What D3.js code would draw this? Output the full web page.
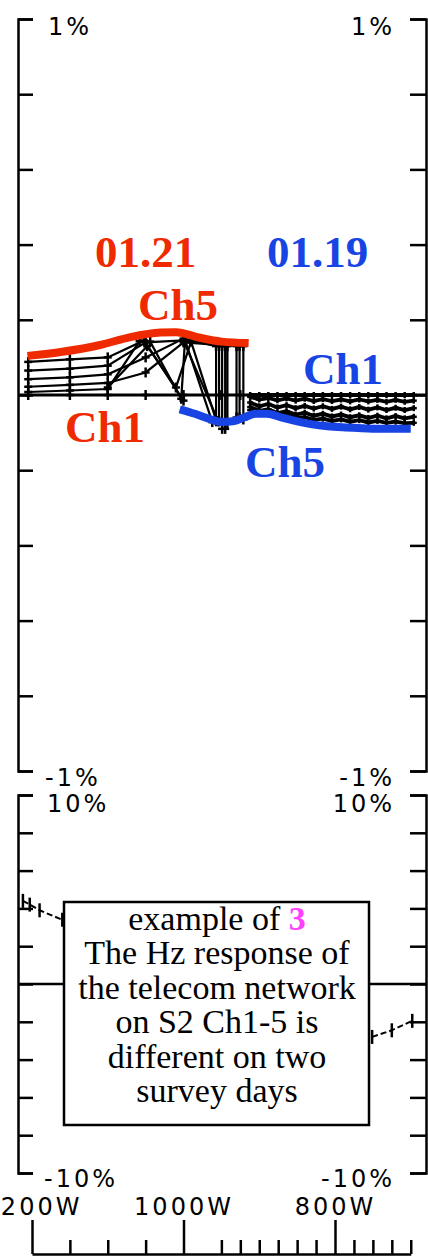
<!DOCTYPE html>
<html><head><meta charset="utf-8">
<script src="https://cdn.jsdelivr.net/npm/d3@7"></script>
<style>html,body{margin:0;padding:0;background:#fff;} svg{display:block;}</style>
</head><body>
<svg id="c" width="428" height="1256"></svg>
<script>
// ---------- data ----------
const xTickMajor = [1200, 1000, 800];
const xTickLabels = ["1200W", "1000W", "800W"];
const xTickMinor = [1150, 1100, 1050, 950, 925, 900, 875, 850, 825, 775, 750, 725, 700];
const topTickValues = [-1, -0.8, -0.6, -0.4, -0.2, 0, 0.2, 0.4, 0.6, 0.8, 1];
const topTickLabels = ["1%", "-1%"];
const botTickValues = [-10, -8, -6, -4, -2, 0, 2, 4, 6, 8, 10];
const botTickLabels = ["10%", "-10%"];
const dateLabels = ["01.21", "01.19"];
const chLabels = ["Ch5", "Ch1"];
const noteLines = ["example of ", "The Hz response of", "the telecom network", "on S2 Ch1-5 is", "different on two", "survey days"];
const noteNumber = "3";

// 01.21 survey (red): [W, %]
const d0121_ch5 = [[1206,0.104],[1160,0.115],[1110,0.133],[1070,0.154],[1030,0.166],[1010,0.167],[980,0.153],[950,0.142],[914,0.138]];
const d0121_ch1 = [[1205,0],[1150,0],[1100,0],[1050,0],[1000,0],[950,0],[925,0]];
const d0121_ch4 = [[1205,0.088],[1150,0.095],[1100,0.1],[1052,0.145],[1000,-0.015]];
const d0121_ch3 = [[1205,0.065],[1150,0.07],[1100,0.078],[1050,0.14],[1000,0.145],[954,-0.07]];
const d0121_ch2 = [[1205,0.042],[1150,0.047],[1100,0.055],[1050,0.1],[1000,0.15],[957,0.13],[957,-0.07],[953,-0.07],[953,0.13],[949,0.13],[949,-0.09],[945,-0.09],[945,0.13],[942,0.13],[942,-0.075]];
const d0121_chx = [[1205,0.022],[1150,0.027],[1100,0.032],[1050,0.06],[1000,0.14],[930,0.13],[930,-0.06],[926,-0.06],[926,0.13],[921,0.13],[921,-0.065]];
const d0121_chy = [[1205,0.008],[1150,0.012],[1100,0.016],[1058,0.143],[1044,0.142],[1003,-0.01],[998,0.146],[962,-0.072]];
const d0121_chz = [[1100,0.02],[1048,0.13],[1010,0.02],[990,0.142],[958,-0.06]];

// 01.19 survey (blue): [W, %]
const d0119_ch5 = [[1005,-0.038],[985,-0.05],[965,-0.064],[950,-0.072],[935,-0.07],[920,-0.06],[905,-0.05],[890,-0.05],[870,-0.06],[850,-0.07],[830,-0.078],[810,-0.083],[790,-0.086],[770,-0.088],[740,-0.09],[700,-0.09]];
const w0119 = [912, 900, 888, 876, 864, 852, 840, 828, 816, 804, 792, 780, 768, 756, 744, 732, 720, 708, 696];
const d0119_ch1 = [0,0,0,0,0,0,0,0,0,0,0,0,0,0,0,0,0,0,0];
const d0119_ch2 = [-0.005,-0.012,-0.008,-0.014,-0.009,-0.015,-0.01,-0.016,-0.011,-0.016,-0.012,-0.017,-0.012,-0.017,-0.013,-0.018,-0.013,-0.018,-0.015];
const d0119_ch3 = [-0.02,-0.03,-0.024,-0.033,-0.027,-0.035,-0.029,-0.036,-0.03,-0.037,-0.031,-0.038,-0.032,-0.039,-0.033,-0.04,-0.034,-0.04,-0.035];
const d0119_ch4 = [-0.032,-0.042,-0.038,-0.048,-0.043,-0.052,-0.047,-0.055,-0.05,-0.057,-0.052,-0.059,-0.054,-0.061,-0.055,-0.062,-0.056,-0.062,-0.058];
const d0119_chx = [-0.04,-0.046,-0.045,-0.052,-0.053,-0.06,-0.059,-0.066,-0.063,-0.069,-0.065,-0.071,-0.067,-0.073,-0.069,-0.074,-0.071,-0.075,-0.074];

// lower panel (10% scale)
const bot_series = [[1212,4.4],[1203,4.2],[1190,3.9],[1160,3.4],[1100,2.3],[1000,0.8],[900,-0.8],[800,-2.5],[770,-3.0],[751,-2.8],[725,-2.45],[698,-1.95]];

// ---------- drawing ----------
const RED = "#f02a00", BLUE = "#1844e4", MAG = "#ff40ff";
const svg = d3.select("#c");
const x = d3.scaleLinear().domain([1200, 700]).range([32, 410.75]);
const yTop = d3.scaleLinear().domain([-1, 1]).range([771, 19]);
const yBot = d3.scaleLinear().domain([-10, 10]).range([1173, 795]);

function styleAxis(g){
  g.selectAll("path,line").attr("stroke","#000").attr("stroke-width",2.5);
  g.selectAll("text").remove();
}
svg.append("g").attr("transform","translate(18,0)")
  .call(d3.axisRight(yTop).tickValues(topTickValues).tickSize(15).tickSizeOuter(15).tickFormat("")).call(styleAxis);
svg.append("g").attr("transform","translate(426,0)")
  .call(d3.axisLeft(yTop).tickValues(topTickValues).tickSize(16).tickSizeOuter(16).tickFormat("")).call(styleAxis);
svg.append("g").attr("transform","translate(18,0)")
  .call(d3.axisRight(yBot).tickValues(botTickValues).tickSize(15).tickSizeOuter(15).tickFormat("")).call(styleAxis);
svg.append("g").attr("transform","translate(426,0)")
  .call(d3.axisLeft(yBot).tickValues(botTickValues).tickSize(16).tickSizeOuter(16).tickFormat("")).call(styleAxis);

const tickFont = {"font-family":"'DejaVu Sans', sans-serif","font-size":"24px","letter-spacing":"3px","fill":"#000"};
function tText(txt, xp, yp, anchor){
  const t = svg.append("text").attr("x",xp).attr("y",yp).attr("text-anchor",anchor).text(txt);
  Object.entries(tickFont).forEach(([k,v])=>t.attr(k,v));
}
tText(topTickLabels[0], 48, yTop(1)+16, "start");
tText(topTickLabels[0], 395, yTop(1)+16, "end");
tText(topTickLabels[1], 45, yTop(-1)+15, "start");
tText(topTickLabels[1], 395, yTop(-1)+15, "end");
tText(botTickLabels[0], 47, yBot(10)+17, "start");
tText(botTickLabels[0], 395, yBot(10)+17, "end");
tText(botTickLabels[1], 44, yBot(-10)+14, "start");
tText(botTickLabels[1], 395, yBot(-10)+14, "end");

const gx = svg.append("g").attr("transform","translate(0,1254)")
  .call(d3.axisTop(x).tickValues(xTickMajor).tickSize(34).tickSizeOuter(0).tickPadding(5).tickFormat((d,i)=>xTickLabels[i]));
gx.selectAll("path,line").attr("stroke","#000").attr("stroke-width",2.5);
gx.selectAll("text").attr("font-family","'DejaVu Sans', sans-serif").attr("font-size","24px").attr("letter-spacing","3px").attr("fill","#000");
const gxm = svg.append("g").attr("transform","translate(0,1254)")
  .call(d3.axisTop(x).tickValues(xTickMinor).tickSize(14).tickSizeOuter(0).tickFormat(""));
gxm.select(".domain").remove();
gxm.selectAll("line").attr("stroke","#000").attr("stroke-width",2.5);

svg.append("line").attr("x1",18).attr("x2",426).attr("y1",yTop(0)).attr("y2",yTop(0)).attr("stroke","#000").attr("stroke-width",3);
svg.append("line").attr("x1",18).attr("x2",426).attr("y1",yBot(0)).attr("y2",yBot(0)).attr("stroke","#000").attr("stroke-width",2.5);

const lineTop = d3.line().x(d=>x(d[0])).y(d=>yTop(d[1]));
function blackSeries(data, sw, mk, mw){
  svg.append("path").datum(data).attr("d",lineTop).attr("fill","none").attr("stroke","#000").attr("stroke-width",sw);
  const g = svg.append("g").attr("stroke","#000").attr("stroke-width",2.5);
  g.selectAll("line.v").data(data).join("line").attr("class","v")
    .attr("x1",d=>x(d[0])).attr("x2",d=>x(d[0]))
    .attr("y1",d=>yTop(d[1])-mk).attr("y2",d=>yTop(d[1])+mk);
  g.selectAll("line.h").data(data).join("line").attr("class","h")
    .attr("x1",d=>x(d[0])-mw).attr("x2",d=>x(d[0])+mw)
    .attr("y1",d=>yTop(d[1])).attr("y2",d=>yTop(d[1]));
}
[d0121_ch1, d0121_ch4, d0121_ch3, d0121_ch2, d0121_chx, d0121_chy, d0121_chz].forEach(s=>blackSeries(s,2.2,5,4));
[d0119_ch1, d0119_ch2, d0119_ch3, d0119_ch4, d0119_chx].forEach(v=>blackSeries(w0119.map((w,i)=>[w,v[i]]),3.8,3,3));

const smooth = d3.line().x(d=>x(d[0])).y(d=>yTop(d[1])).curve(d3.curveMonotoneX);
svg.append("path").datum(d0121_ch5).attr("d",smooth).attr("fill","none").attr("stroke",RED).attr("stroke-width",8);
svg.append("path").datum(d0119_ch5).attr("d",smooth).attr("fill","none").attr("stroke",BLUE).attr("stroke-width",8);

const boldFont = "'Liberation Serif', 'Times New Roman', serif";
function bLabel(txt, xp, yp, col){
  svg.append("text").attr("x",xp).attr("y",yp).attr("fill",col).attr("font-family",boldFont)
    .attr("font-weight","bold").attr("font-size","45px").text(txt);
}
bLabel(dateLabels[0], 95, 267, RED);
bLabel(dateLabels[1], 267, 267, BLUE);
bLabel(chLabels[0], 138, 320, RED);
bLabel(chLabels[1], 65, 442, RED);
bLabel(chLabels[1], 303, 384, BLUE);
bLabel(chLabels[0], 245, 477, BLUE);

const lineBot = d3.line().x(d=>x(d[0])).y(d=>yBot(d[1]));
svg.append("path").datum(bot_series).attr("d",lineBot).attr("fill","none").attr("stroke","#000").attr("stroke-width",2).attr("stroke-dasharray","6,3");
svg.append("g").selectAll("line").data(bot_series).join("line")
  .attr("x1",d=>x(d[0])).attr("x2",d=>x(d[0]))
  .attr("y1",d=>yBot(d[1])-7).attr("y2",d=>yBot(d[1])+7)
  .attr("stroke","#000").attr("stroke-width",2.5);

svg.append("rect").attr("x",64).attr("y",902).attr("width",305).attr("height",223)
  .attr("fill","#fff").attr("stroke","#000").attr("stroke-width",2.5);
const note = svg.append("g").attr("font-family","'Liberation Serif', 'Times New Roman', serif").attr("font-size","34px").attr("fill","#000").attr("text-anchor","middle");
noteLines.forEach((ln,i)=>{
  const t = note.append("text").attr("x",217).attr("y",930 + i*34.4);
  t.append("tspan").text(ln);
  if(i===0) t.append("tspan").attr("fill",MAG).attr("font-weight","bold").text(noteNumber);
});
</script>
</body></html>
